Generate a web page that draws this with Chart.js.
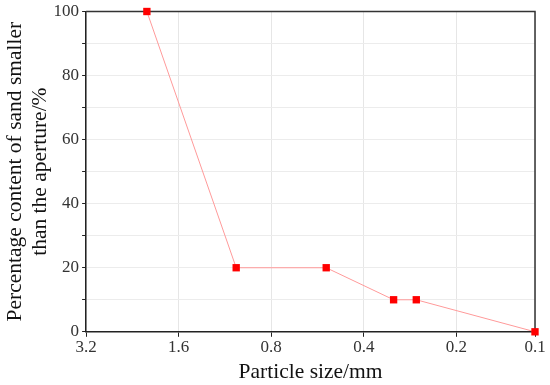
<!DOCTYPE html>
<html>
<head>
<meta charset="utf-8">
<script src="https://cdn.jsdelivr.net/npm/chart.js@4.4.1/dist/chart.umd.min.js"></script>
<style>
html,body{margin:0;padding:0;background:#fff;}
#wrap{width:550px;height:385px;}
</style>
</head>
<body>
<div id="wrap"><canvas id="c" width="550" height="385"></canvas></div>
<script>
const particleSizes = [2.03, 1.04, 0.53, 0.32, 0.27, 0.111];
const percentPassing = [100, 20, 20, 10, 10, 0];
const xTickValues = [3.2, 1.6, 0.8, 0.4, 0.2, 0.111];
const yTickStep = 10;

const frame = {
  id: 'frame',
  beforeDatasetsDraw(chart) {
    const a = chart.chartArea, ctx = chart.ctx;
    ctx.save();
    ctx.strokeStyle = '#333';
    ctx.lineWidth = 1.5;
    ctx.beginPath();
    ctx.moveTo(a.left, a.top);
    ctx.lineTo(a.right, a.top);
    ctx.lineTo(a.right, a.bottom);
    ctx.stroke();
    ctx.restore();
  }
};

new Chart(document.getElementById('c'), {
  type: 'line',
  data: {
    datasets: [{
      data: particleSizes.map((x, i) => ({x: x, y: percentPassing[i]})),
      borderColor: '#ff9a9a',
      borderWidth: 1,
      backgroundColor: '#ff0000',
      pointBackgroundColor: '#ff0000',
      pointBorderColor: '#ff0000',
      pointStyle: 'rect',
      pointRadius: 5.2,
      pointBorderWidth: 0,
      tension: 0,
      clip: false
    }]
  },
  options: {
    responsive: false,
    animation: false,
    devicePixelRatio: 1,
    layout: {padding: {left: 2, right: 15, top: 0, bottom: 0}},
    plugins: {legend: {display: false}, tooltip: {enabled: false}},
    scales: {
      x: {
        type: 'logarithmic',
        reverse: true,
        min: 0.111,
        max: 3.2,
        afterBuildTicks: (axis) => { axis.ticks = xTickValues.map(v => ({value: v})); },
        ticks: {
          autoSkip: false,
          maxRotation: 0,
          color: '#333',
          font: {family: 'Liberation Serif', size: 17},
          padding: 1,
          callback: (v) => Number(v).toFixed(1)
        },
        grid: {color: '#e6e6e6', lineWidth: 1, tickColor: '#222', tickLength: 5, drawOnChartArea: true},
        border: {color: '#222', width: 1.5},
        title: {display: true, text: 'Particle size/mm', color: '#111',
          font: {family: 'Liberation Serif', size: 21.5}, padding: {top: 0, bottom: 0}}
      },
      y: {
        min: 0,
        max: 100,
        ticks: {
          stepSize: yTickStep,
          autoSkip: false,
          color: '#333',
          font: {family: 'Liberation Serif', size: 17, lineHeight: 1.0},
          padding: 3,
          callback: (v) => (v % 20 === 0 ? String(v) : '')
        },
        grid: {color: '#ececec', lineWidth: 1, tickColor: '#222', tickLength: 4},
        border: {color: '#222', width: 1.5},
        title: {display: true, text: ['Percentage content of sand smaller', 'than the aperture/%'], color: '#111',
          font: {family: 'Liberation Serif', size: 21.5, lineHeight: 1.2}, padding: {top: 0, bottom: -3}}
      }
    }
  },
  plugins: [frame]
});
</script>
</body>
</html>
